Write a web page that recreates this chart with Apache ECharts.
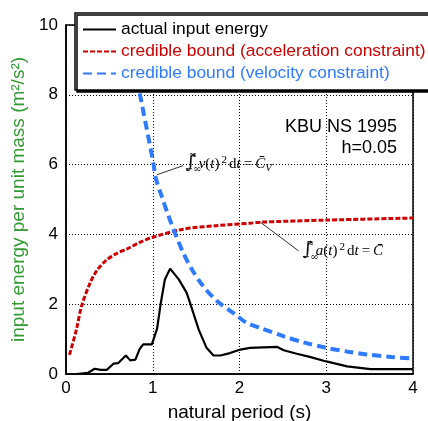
<!DOCTYPE html>
<html><head><meta charset="utf-8">
<script src="https://cdn.jsdelivr.net/npm/echarts@6/dist/echarts.min.js"></script>
<style>html,body{margin:0;padding:0;background:#fff}#c{width:428px;height:421px}</style>
</head><body><div id="c"></div>
<script>
// ---- data ----
const periodActual = [0.12,0.25,0.33,0.40,0.47,0.55,0.60,0.69,0.74,0.80,0.85,0.89,0.99,1.05,1.09,1.14,1.20,1.30,1.39,1.43,1.53,1.62,1.70,1.78,1.89,2.01,2.12,2.43,2.51,2.66,2.81,3.00,3.24,3.51,4.00];
const energyActual = [0,0.03,0.15,0.12,0.12,0.30,0.31,0.53,0.39,0.41,0.72,0.85,0.85,1.30,1.99,2.71,3.02,2.71,2.33,2.04,1.27,0.75,0.53,0.53,0.60,0.70,0.75,0.78,0.68,0.58,0.49,0.36,0.22,0.14,0.14];
const periodAcc = [0.04,0.12,0.18,0.28,0.36,0.47,0.58,0.70,0.85,0.99,1.35,1.73,2.12,2.24,3.00,4.00];
const energyAcc = [0.55,1.27,1.95,2.62,2.98,3.27,3.45,3.58,3.77,3.91,4.15,4.25,4.32,4.35,4.41,4.47];
const periodVel = [0.85,1.01,1.03,1.10,1.18,1.26,1.35,1.45,1.58,1.74,1.95,2.08,2.24,2.51,2.75,3.00,3.25,3.47,3.75,4.00];
const energyVel = [8.04,6.00,5.65,5.11,4.54,4.01,3.48,3.00,2.52,2.09,1.71,1.47,1.32,1.08,0.90,0.75,0.64,0.56,0.49,0.44];
const seriesNames = ['actual input energy','credible bound (acceleration constraint)','credible bound (velocity constraint)'];
const xTicks = {min:0,max:4,interval:1};
const yTicks = {min:0,max:10,interval:2};
// annotation anchors (data coordinates)
const leaderVel = [[1.05,5.71],[1.35,5.97]];
const leaderAcc = [[2.24,4.35],[2.68,3.53]];
const noteVelAt = [1.38,6.05];
const noteAccAt = [2.73,3.55];

const F = '"Liberation Sans", Arial, sans-serif';
const SERIF = '"Liberation Serif", "DejaVu Serif", serif';
const RED = '#cc0000', BLUE = '#2f7bff', GREEN = '#339933';
function pairs(xs, ys){ return xs.map((x,i)=>[x, ys[i]]); }

const chart = echarts.init(document.getElementById('c'), null, {renderer:'canvas'});
const option = {
  animation:false,
  backgroundColor:'#fff',
  textStyle:{fontFamily:F},
  grid:{left:66,right:15,top:25,bottom:47,show:true,borderColor:'#000',borderWidth:1.5,backgroundColor:'transparent',
    containLabel:false,outerBoundsMode:'none'},
  legend:{
    orient:'vertical', left:75, top:13, itemWidth:33, itemHeight:14, itemGap:5,
    padding:[8,7,8,7], backgroundColor:'#fff', borderColor:'#000', borderWidth:1.5, borderRadius:0,
    shadowColor:'#000', shadowOffsetX:2, shadowOffsetY:2, shadowBlur:0,
    selectedMode:false,
    itemStyle:{opacity:0},
    textStyle:{fontSize:17.4,fontFamily:F},
    data:[
      {name:seriesNames[0], textStyle:{color:'#000'}},
      {name:seriesNames[1], textStyle:{color:RED}},
      {name:seriesNames[2], textStyle:{color:BLUE}}
    ]
  },
  xAxis:{type:'value',min:xTicks.min,max:xTicks.max,interval:xTicks.interval,
    name:'natural period (s)',nameLocation:'middle',nameGap:29,
    nameTextStyle:{fontSize:19,color:'#000',fontFamily:F},
    axisLine:{show:true,lineStyle:{color:'#000',width:1.5}},axisTick:{show:false},
    axisLabel:{fontSize:17,color:'#000',margin:6,fontFamily:F},
    splitLine:{show:true,lineStyle:{color:'#000',type:[1,2],width:1}}},
  yAxis:{type:'value',min:yTicks.min,max:yTicks.max,interval:yTicks.interval,
    name:'input energy per unit mass (m²/s²)',nameLocation:'middle',nameGap:35,
    nameTextStyle:{fontSize:19,color:GREEN,fontFamily:F},
    axisLine:{show:true,lineStyle:{color:'#000',width:1.5}},axisTick:{show:false},
    axisLabel:{fontSize:17,color:'#000',margin:8,fontFamily:F},
    splitLine:{show:true,lineStyle:{color:'#000',type:[1,2],width:1}}},
  series:[
    {name:seriesNames[0],type:'line',data:pairs(periodActual,energyActual),symbol:'none',z:5,
      lineStyle:{color:'#000',width:2.2},itemStyle:{color:'#000'}},
    {name:seriesNames[1],type:'line',data:pairs(periodAcc,energyAcc),symbol:'none',smooth:0.3,z:4,
      lineStyle:{color:RED,width:3,type:[5,2]},itemStyle:{color:RED},
      markLine:{silent:true,symbol:['none','none'],label:{show:false},lineStyle:{color:'#333',width:1,type:'solid'},
        data:[[{coord:leaderAcc[0]},{coord:leaderAcc[1]}]]}},
    {name:seriesNames[2],type:'line',data:pairs(periodVel,energyVel),symbol:'none',smooth:0.3,z:4,
      lineStyle:{color:BLUE,width:4,type:[9,5]},itemStyle:{color:BLUE},
      markLine:{silent:true,symbol:['none','none'],label:{show:false},lineStyle:{color:'#333',width:1,type:'solid'},
        data:[[{coord:leaderVel[0]},{coord:leaderVel[1]}]]}}
  ]
};
chart.setOption(option);

function note(at, letter, sub){
  const p = chart.convertToPixel({gridIndex:0}, at);
  const rich = {
    i:{fontFamily:SERIF,fontStyle:'italic',fontSize:15,color:'#111'},
    n:{fontFamily:SERIF,fontSize:15,color:'#111'},
    sup:{fontFamily:SERIF,fontSize:11,color:'#111',verticalAlign:'top',padding:[0,2,8,2]},
    sub:{fontFamily:SERIF,fontStyle:'italic',fontSize:11,color:'#111',padding:[8,0,0,0]}
  };
  return {type:'group',x:p[0],y:p[1],z:20,children:[
    {type:'text',x:0,y:0,style:{text:'∫',font:'19px "DejaVu Serif"',fill:'#111',verticalAlign:'middle',textVerticalAlign:'middle'}},
    {type:'text',x:3,y:-7,style:{text:'∞',font:'10px "DejaVu Serif"',fill:'#111',verticalAlign:'middle',textVerticalAlign:'middle'}},
    {type:'text',x:-1,y:7,style:{text:'−∞',font:'10px "DejaVu Serif"',fill:'#111',verticalAlign:'middle',textVerticalAlign:'middle'}},
    {type:'text',x:13,y:1,style:{text:'{i|'+letter+'}{n|(}{i|t}{n|)}{sup|2}{n|d}{i|t}{n|\u2009=\u2009}{i|C\u0304}'+(sub?'{sub|'+sub+'}':''),
      rich:rich,verticalAlign:'middle',textVerticalAlign:'middle'}}
  ]};
}
const W = chart.getWidth();
chart.setOption({graphic:[
  note(noteVelAt,'v','V'),
  note(noteAccAt,'a',''),
  {type:'text',x:W-31,y:118,z:20,style:{text:'KBU NS 1995',font:'18px '+F,fill:'#000',align:'right',textAlign:'right',verticalAlign:'top',textVerticalAlign:'top'}},
  {type:'text',x:W-31,y:139,z:20,style:{text:'h=0.05',font:'18px '+F,fill:'#000',align:'right',textAlign:'right',verticalAlign:'top',textVerticalAlign:'top'}}
]});
</script></body></html>
